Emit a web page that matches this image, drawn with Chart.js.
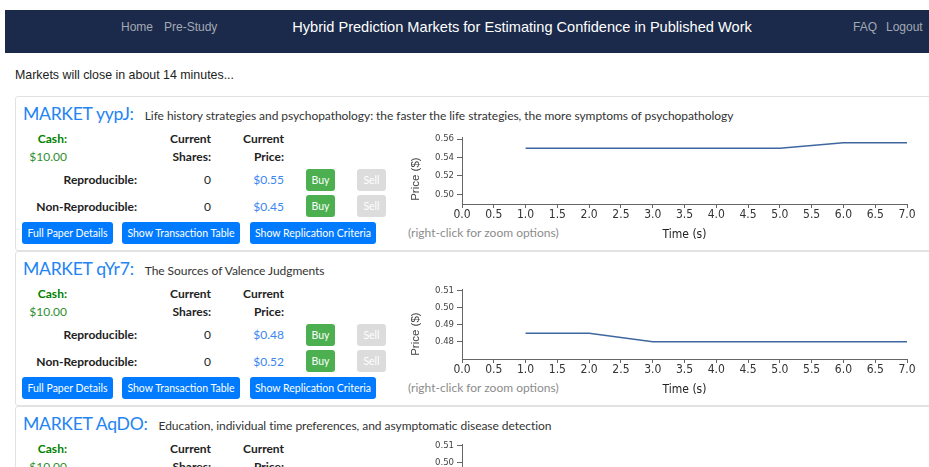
<!DOCTYPE html>
<html>
<head>
<meta charset="utf-8">
<title>Hybrid Prediction Markets</title>
<script src="https://cdn.jsdelivr.net/npm/chart.js@4.4.1/dist/chart.umd.min.js"></script>
<style>
  html, body { margin: 0; padding: 0; }
  body { width: 929px; height: 467px; overflow: hidden; position: relative; background: #fff;
         font-family: Lato, "Open Sans", sans-serif; color: #212529; }
  .navbar { position: absolute; left: 5px; top: 10px; width: 924px; height: 43px; background: #1b2a4a;
            font-family: "Liberation Sans", Arial, sans-serif; }
  .navbar span { position: absolute; top: 0; line-height: 34px; white-space: nowrap; }
  .navbar .link { color: #a3a9b3; font-size: 12px; }
  .navbar .brand { color: #fff; font-size: 14.6px; transform: translateX(-50%); }
  .closing { position: absolute; left: 15px; top: 67px; line-height: 17px; font-size: 12.4px; color: #222;
             font-family: "Liberation Sans", Arial, sans-serif; }
  .card { position: absolute; left: 15px; width: 930px; height: 153px; border: 1px solid #e2e2e2; border-radius: 3px; }
  .card div { position: absolute; white-space: nowrap; }
  .head { left: 7px; top: 4px; display: flex; align-items: baseline; line-height: 26px; }
  .head .mkt { position: static; font-size: 17.6px; letter-spacing: -0.3px; color: #2384f3; }
  .head .paper { position: static; font-size: 12px; letter-spacing: -0.05px; color: #333; margin-left: 11px; }
  .txt { font-size: 12px; line-height: 16px; text-align: right; }
  .bold { font-weight: bold; color: #222; }
  .cash { color: #008000; }
  .money { color: #2f8f2f; }
  .price { color: #3b86f0; }
  .btn { height: 22px; line-height: 22px; font-size: 10.5px; color: #fff; text-align: center; border-radius: 3px; }
  .buy { background: #4caf50; width: 29px; }
  .sell { background: #dcdcdc; width: 29px; }
  .blue { background: #007bff; }
  .hint { left: 392px; top: 128px; font-size: 12px; line-height: 16px; color: #8c8c8c; }
  canvas { position: absolute; left: 400px; z-index: 2; }
</style>
</head>
<body>
<div class="navbar">
  <span class="link" style="left:116px">Home</span>
  <span class="link" style="left:159px">Pre-Study</span>
  <span class="brand" style="left:517px">Hybrid Prediction Markets for Estimating Confidence in Published Work</span>
  <span class="link" style="left:848px">FAQ</span>
  <span class="link" style="left:881px">Logout</span>
</div>
<div class="closing">Markets will close in about 14 minutes...</div>
<div id="markets"></div>

<script>
const marketIds = ['yypJ', 'qYr7', 'AqDO'];
const paperTitles = [
  'Life history strategies and psychopathology: the faster the life strategies, the more symptoms of psychopathology',
  'The Sources of Valence Judgments',
  'Education, individual time preferences, and asymptomatic disease detection'
];
const cashLeft = ['$10.00', '$10.00', '$10.00'];
const reproShares = [0, 0, 0];
const nonReproShares = [0, 0, 0];
const reproPrices = [0.55, 0.48, 0.50];
const nonReproPrices = [0.45, 0.52, 0.50];

const times = [1, 2, 3, 4, 5, 6, 7];
const priceYypJ = [0.55, 0.55, 0.55, 0.55, 0.55, 0.556, 0.556];
const priceQYr7 = [0.485, 0.485, 0.48, 0.48, 0.48, 0.48, 0.48];
const priceAqDO = [0.49, 0.49, 0.49, 0.49, 0.49, 0.49, 0.49];

const timeTicks = [0, 0.5, 1, 1.5, 2, 2.5, 3, 3.5, 4, 4.5, 5, 5.5, 6, 6.5, 7];
const yTicksYypJ = [0.50, 0.52, 0.54, 0.56];
const yTicksQYr7 = [0.48, 0.49, 0.50, 0.51];
const yTicksAqDO = [0.48, 0.49, 0.50, 0.51];

const cardTops = [96, 251, 406];
const narrow = '"Liberation Sans Narrow", "DejaVu Sans Condensed", "Liberation Sans", sans-serif';

// cards
const holder = document.getElementById('markets');
marketIds.forEach((id, i) => {
  const card = document.createElement('div');
  card.className = 'card';
  card.style.top = cardTops[i] + 'px';
  card.innerHTML = `
    <div class="head"><span class="mkt">MARKET ${id}:</span><span class="paper">${paperTitles[i]}</span></div>
    <div class="txt bold cash" style="left:0;width:51px;top:34px">Cash:</div>
    <div class="txt money" style="left:0;width:51px;top:52px">${cashLeft[i]}</div>
    <div class="txt bold" style="left:130px;width:65px;top:34px">Current</div>
    <div class="txt bold" style="left:130px;width:65px;top:52px">Shares:</div>
    <div class="txt bold" style="left:210px;width:58px;top:34px">Current</div>
    <div class="txt bold" style="left:210px;width:58px;top:52px">Price:</div>
    <div class="txt bold" style="left:0;width:121px;top:75px">Reproducible:</div>
    <div class="txt" style="left:130px;width:65px;top:75px">${reproShares[i]}</div>
    <div class="txt price" style="left:210px;width:58px;top:75px">$${reproPrices[i].toFixed(2)}</div>
    <div class="btn buy" style="left:290px;top:72px">Buy</div>
    <div class="btn sell" style="left:341px;top:72px">Sell</div>
    <div class="txt bold" style="left:0;width:121px;top:102px">Non-Reproducible:</div>
    <div class="txt" style="left:130px;width:65px;top:102px">${nonReproShares[i]}</div>
    <div class="txt price" style="left:210px;width:58px;top:102px">$${nonReproPrices[i].toFixed(2)}</div>
    <div class="btn buy" style="left:290px;top:98px">Buy</div>
    <div class="btn sell" style="left:341px;top:98px">Sell</div>
    <div class="btn blue" style="left:6px;width:91px;top:125px">Full Paper Details</div>
    <div class="btn blue" style="left:106px;width:118px;top:125px">Show Transaction Table</div>
    <div class="btn blue" style="left:234px;width:126px;top:125px">Show Replication Criteria</div>
    <div class="hint">(right-click for zoom options)</div>`;
  holder.appendChild(card);

  const cv = document.createElement('canvas');
  cv.id = 'chart-' + id;
  cv.width = 529;
  cv.height = 118;
  cv.style.top = (cardTops[i] + 30) + 'px';
  document.body.appendChild(cv);
});

function drawPriceChart(canvasId, prices, yTicks, yMin, yMax, padTop) {
  new Chart(document.getElementById(canvasId), {
    type: 'line',
    data: {
      datasets: [{
        data: times.map((t, i) => ({ x: t, y: prices[i] })),
        borderColor: '#3f679f',
        borderWidth: 1.6,
        pointRadius: 0,
        tension: 0,
        fill: false
      }]
    },
    options: {
      responsive: false,
      animation: false,
      devicePixelRatio: 1,
      layout: { padding: { top: padTop, right: 22, bottom: 0, left: 0 } },
      plugins: { legend: { display: false }, tooltip: { enabled: false } },
      scales: {
        x: {
          type: 'linear', min: 0, max: 7,
          afterBuildTicks: a => { a.ticks = timeTicks.map(v => ({ value: v })); },
          afterFit: a => { a.height = 40; },
          ticks: { callback: v => Number(v).toFixed(1), color: '#333', font: { family: narrow, size: 12 },
                   padding: 0, maxRotation: 0, autoSkip: false },
          grid: { drawOnChartArea: false, tickLength: 4, color: '#666' },
          border: { color: '#666' },
          title: { display: true, text: 'Time (s)', color: '#222', font: { family: narrow, size: 12 },
                   padding: { top: 0, bottom: 2 } }
        },
        y: {
          min: yMin, max: yMax,
          afterBuildTicks: a => { a.ticks = yTicks.map(v => ({ value: v })); },
          afterFit: a => { a.width = 62; },
          ticks: { callback: v => Number(v).toFixed(2), color: '#444', font: { family: narrow, size: 9.5 }, padding: 3 },
          grid: { drawOnChartArea: false, tickLength: 5, color: '#666' },
          border: { color: '#666' },
          title: { display: true, text: ' Price ($)', align: 'start', color: '#444',
                   font: { family: '"Liberation Sans", Arial, sans-serif', size: 11.5 }, padding: { top: 9, bottom: 0 } }
        }
      }
    }
  });
}

drawPriceChart('chart-yypJ', priceYypJ, yTicksYypJ, 0.4895, 0.5622, 11);
drawPriceChart('chart-qYr7', priceQYr7, yTicksQYr7, 0.4698, 0.5107, 6);
drawPriceChart('chart-AqDO', priceAqDO, yTicksAqDO, 0.4698, 0.5107, 6);
</script>
</body>
</html>
